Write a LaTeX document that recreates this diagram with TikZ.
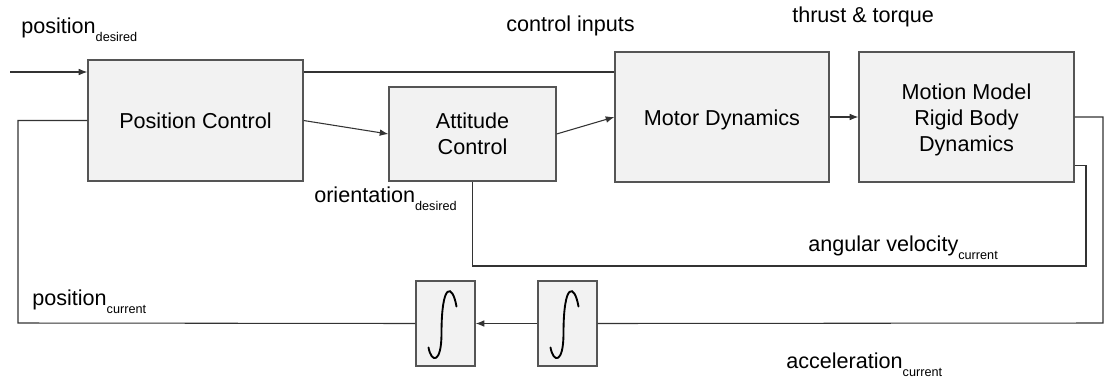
\documentclass[tikz,border=0pt]{standalone}
\usepackage{fontspec}
\setmainfont{Liberation Sans}
\usepackage{xcolor}
\usetikzlibrary{arrows.meta,positioning,calc}

\definecolor{boxfill}{HTML}{F2F2F2}
\definecolor{boxline}{HTML}{555555}
\definecolor{wire}{HTML}{333333}
\newcommand{\lowsub}[1]{\raisebox{-6.6pt}{\fontsize{9.5}{10}\selectfont #1}}
\newcommand{\dropby}[1]{\raisebox{0pt}[\dimexpr\height+4.5pt]{#1}}

\begin{document}
\begin{tikzpicture}[
  x=0.75pt, y=-0.75pt,
  font=\fontsize{16.2}{19.5}\selectfont,
  block/.style={draw=boxline, fill=boxfill, line width=0.9pt, align=center, inner sep=0pt},
  lbl/.style={anchor=base west, inner sep=0pt},
  wire/.style={draw=wire, line width=0.8pt},
  arr/.style={wire, -{Latex[length=6.5pt,width=5pt]}},
  intg/.style={draw=black, line width=1.4pt, line cap=round}
]
\useasboundingbox (0,0) rectangle (1104,383);

% blocks
\node[block, minimum width=161.25pt, minimum height=90.75pt] (pos) at (195.5,120.5) {Position Control};
\node[block, minimum width=125.25pt, minimum height=70.5pt] (att) at (472.5,134) {Attitude\\Control};
\node[block, minimum width=160.5pt, minimum height=97.5pt] (motor) at (722,117) {\dropby{Motor Dynamics}};
\node[block, minimum width=161.25pt, minimum height=97.5pt] (motion) at (966.5,117)
  {\dropby{\begin{tabular}{@{}c@{}}Motion Model\\Rigid Body\\Dynamics\end{tabular}}};
\node[block, minimum width=44.25pt, minimum height=63.75pt] (int1) at (445.5,323.5) {};
\node[block, minimum width=44.25pt, minimum height=63.75pt] (int2) at (567.5,323.5) {};

% integral signs
\foreach \n in {int1,int2}{
  \draw[intg, shift={(\n.center)}] (-17,24) .. controls (-14,40) and (-4,40) .. (-4,10)
    .. controls (-4,-42) and (7,-40) .. (11,-17);
}

% labels
\node[lbl] (lposd) at (21,33) {position\lowsub{desired}};
\node[lbl] (lcin) at (506,31) {control inputs};
\node[lbl] (lthr) at (792,22) {thrust \& torque};
\node[lbl] (lori) at (314,202) {orientation\lowsub{desired}};
\node[lbl] (lang) at (808,251) {angular velocity\lowsub{current}};
\node[lbl] (lposc) at (32,305) {position\lowsub{current}};
\node[lbl] (lacc) at (786,368) {acceleration\lowsub{current}};

% helper points
\coordinate (in) at (10,72);
\coordinate (cr) at (1103,323);
\coordinate (cl) at (18,323);
\coordinate (av) at (1086,266);

% connectors
\draw[arr] (in) -- (pos.west |- in);
\draw[wire] (pos.east |- in) -- (motor.west |- in);
\draw[arr] (pos.east) -- (att.west);
\draw[arr] (att.east) -- (motor.west);
\draw[arr] (motor.east) -- (motion.west);
\draw[wire] (motion.east) -| (cr) -- (int2.east);
\draw[arr] (int2.west) -- (int1.east);
\draw[wire] (int1.west) -- (cl) |- (pos.west);
\draw[wire] ([yshift=12.75pt]motion.south east) -| (av) -| (att.south);
\end{tikzpicture}
\end{document}
